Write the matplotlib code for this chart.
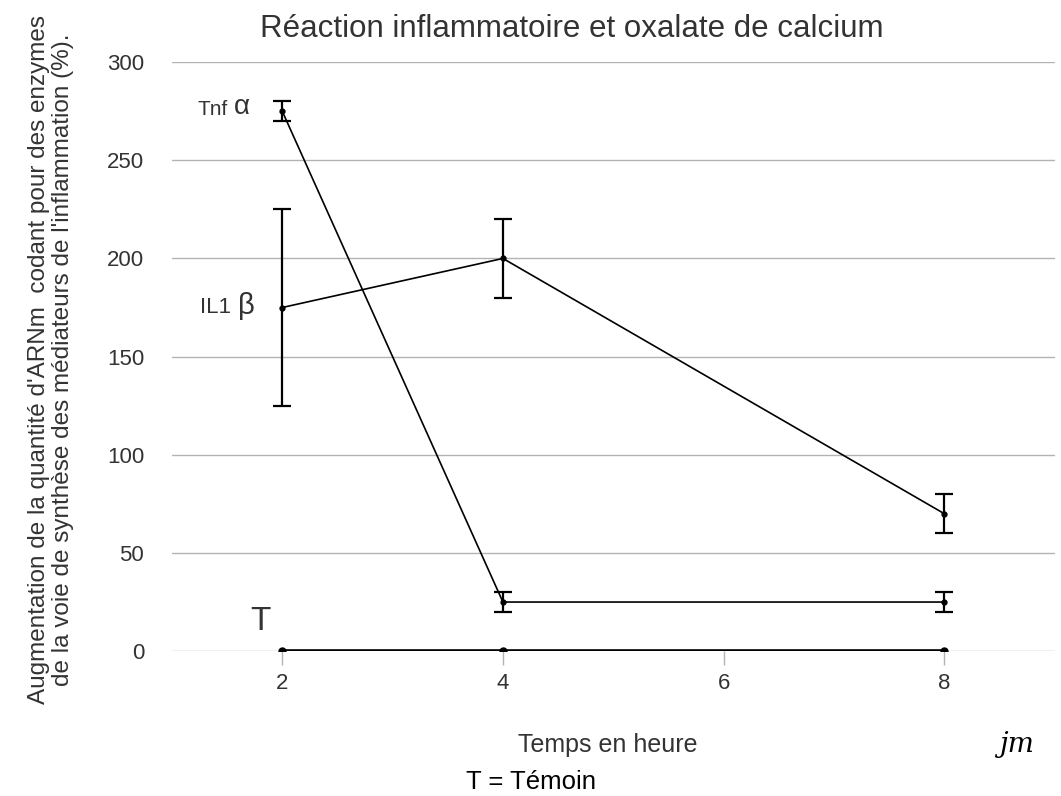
import matplotlib
matplotlib.use("Agg")
import matplotlib.pyplot as plt

plt.rcParams['font.family'] = ['Liberation Sans', 'DejaVu Sans']

hours = [2, 4, 8]
tnf = [275, 25, 25]
tnf_err = [5, 5, 5]
il1 = [175, 200, 70]
il1_err = [50, 20, 10]
temoin = [0, 0, 0]
yticks = [0, 50, 100, 150, 200, 250, 300]
xticks = [2, 4, 6, 8]

fig = plt.figure(figsize=(10.61, 7.96), dpi=100)
ax = fig.add_axes([0.162, 0.182, 0.832, 0.740])

ax.errorbar(hours, tnf, yerr=tnf_err, color='black', lw=1.2, marker='o', ms=3.5,
            capsize=6.5, capthick=1.6, elinewidth=1.6, zorder=3)
ax.errorbar(hours, il1, yerr=il1_err, color='black', lw=1.2, marker='o', ms=3.5,
            capsize=6.5, capthick=1.6, elinewidth=1.6, zorder=3)
ax.plot(hours, temoin, color='black', lw=2.6, marker='o', ms=5, zorder=3)

ax.set_xlim(1, 9)
ax.set_ylim(0, 300)
ax.set_yticks(yticks)
ax.set_xticks(xticks)
ax.grid(axis='y', color='#b3b3b3', lw=1)
ax.set_axisbelow(True)
for s in ax.spines.values():
    s.set_visible(False)
ax.tick_params(axis='y', length=0, pad=20, labelsize=16, colors='#333333')
ax.tick_params(axis='x', length=10, width=1, color='#b3b3b3', pad=6, labelsize=16, labelcolor='#333333')

fig.text(0.539, 0.963, "Réaction inflammatoire et oxalate de calcium", ha='center', va='center',
         fontsize=22.5, color='#333333')
fig.text(0.573, 0.064, "Temps en heure", ha='center', va='center', fontsize=18, color='#333333')
fig.text(0.500, 0.018, "T = Témoin", ha='center', va='center', fontsize=18.5, color='black')
fig.text(0.048, 0.548, "Augmentation de la quantité d'ARNm  codant pour des enzymes\nde la voie de synthèse des médiateurs de l'inflammation (%).",
         rotation=90, ha='center', va='center', fontsize=17.5, color='#333333', linespacing=1.1)

ax.text(1.505, 276, "Tnf", ha='right', va='center', fontsize=15, color='#333333')
ax.text(1.56, 277, "α", ha='left', va='center', fontsize=20, color='#333333')
ax.text(1.54, 175, "IL1", ha='right', va='center', fontsize=16, color='#333333')
ax.text(1.6, 176, "β", ha='left', va='center', fontsize=21, color='#333333')
ax.text(1.8, 15, "T", ha='center', va='center', fontsize=24, color='#333333')
fig.text(0.958, 0.065, "jm", ha='center', va='center', fontsize=20, style='italic',
         family=['DejaVu Serif'], color='black')

fig.savefig("out.png", dpi=100)
